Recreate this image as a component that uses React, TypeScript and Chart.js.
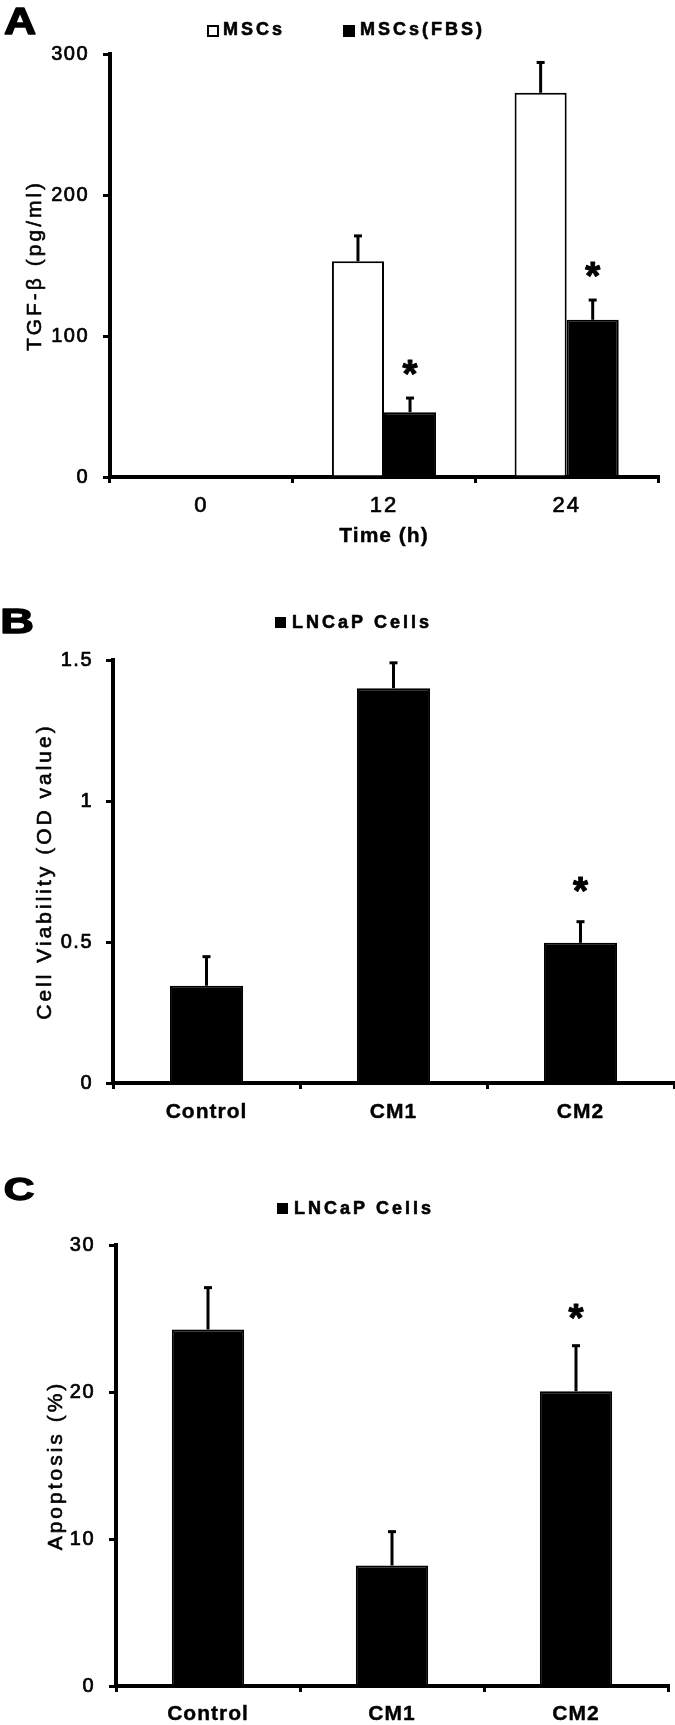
import React, { useEffect, useRef } from 'react';
import { Chart, registerables } from 'chart.js';

Chart.register(...registerables);

const FONT = '"Liberation Sans", Arial, Helvetica, sans-serif';

// ---------- Panel A : TGF-β secretion ----------
const timeLabels = ['0', '12', '24'];
const mscsLabel = 'MSCs';
const mscsValues = [0, 153, 272.5];
const mscsErrors = [0, 18, 21.5];
const mscsStars = [false, false, false];
const fbsLabel = 'MSCs(FBS)';
const fbsValues = [0, 46, 111.5];
const fbsErrors = [0, 10, 14];
const fbsStars = [false, true, true];
const tgfAxisMax = 300;
const tgfAxisStep = 100;

// ---------- Panel B : Cell viability ----------
const groupLabels = ['Control', 'CM1', 'CM2'];
const cellsLabel = 'LNCaP Cells';
const viabilityValues = [0.345, 1.4, 0.497];
const viabilityErrors = [0.103, 0.09, 0.075];
const viabilityStars = [false, false, true];
const viabilityAxisMax = 1.5;
const viabilityAxisStep = 0.5;

// ---------- Panel C : Apoptosis ----------
const apoptosisValues = [24.25, 8.2, 20.05];
const apoptosisErrors = [2.85, 2.3, 3.1];
const apoptosisStars = [false, false, true];
const apoptosisAxisMax = 30;
const apoptosisAxisStep = 10;

type Ink = { left: number; top: number; w: number; h: number };
type LegendItem = { x: number; y: number; size: number; textX: number; textY: number };

interface PanelSpec {
  height: number;
  letter: string;
  letterInk: Ink;
  labels: string[];
  datasets: any[];
  yMax: number;
  yStep: number;
  yTitle: string;
  xTitle?: string;
  padTop: number;
  padRight: number;
  yAxisWidth: number;
  xAxisHeight: number;
  yTitlePad: number;
  yTickPad: number;
  xTickPad: number;
  xTitlePad: number;
  xTickFont: { size: number; weight: string };
  spacing: { xTicks: number; xTitle: number; yTicks: number; yTitle: number };
  legend: LegendItem[];
  starGap: number;
  catPct: number;
}

function drawInkText(ctx: CanvasRenderingContext2D, text: string, ink0: Ink, weight: string, stroke: number) {
  const ink = { left: ink0.left + stroke / 2, top: ink0.top + stroke / 2, w: ink0.w - stroke, h: ink0.h - stroke };
  ctx.save();
  ctx.letterSpacing = '0px';
  ctx.font = `${weight} 100px ${FONT}`;
  const m = ctx.measureText(text);
  const h = m.actualBoundingBoxAscent + m.actualBoundingBoxDescent;
  const w = m.actualBoundingBoxLeft + m.actualBoundingBoxRight;
  const size = (100 * ink.h) / h;
  const sx = ink.w / ((w * size) / 100);
  ctx.font = `${weight} ${size}px ${FONT}`;
  const m2 = ctx.measureText(text);
  ctx.translate(ink.left, ink.top);
  ctx.scale(sx, 1);
  ctx.textAlign = 'left';
  ctx.textBaseline = 'alphabetic';
  ctx.fillStyle = '#000';
  ctx.fillText(text, m2.actualBoundingBoxLeft, m2.actualBoundingBoxAscent);
  if (stroke > 0) {
    ctx.strokeStyle = '#000';
    ctx.lineWidth = stroke;
    ctx.lineJoin = 'round';
    ctx.strokeText(text, m2.actualBoundingBoxLeft, m2.actualBoundingBoxAscent);
  }
  ctx.restore();
}

function withHeavyText(c: any, width: number, fn: () => void) {
  if (width <= 0) {
    fn();
    return;
  }
  const orig = CanvasRenderingContext2D.prototype.fillText;
  c.fillText = function (t: string, x: number, y: number, mw?: number) {
    if (mw === undefined) orig.call(this, t, x, y);
    else orig.call(this, t, x, y, mw);
    const lw = this.lineWidth;
    const ss = this.strokeStyle;
    const lj = this.lineJoin;
    this.lineWidth = width;
    this.strokeStyle = '#000';
    this.lineJoin = 'round';
    if (mw === undefined) this.strokeText(t, x, y);
    else this.strokeText(t, x, y, mw);
    this.lineWidth = lw;
    this.strokeStyle = ss;
    this.lineJoin = lj;
  };
  try {
    fn();
  } finally {
    delete c.fillText;
  }
}

function makePlugin(spec: PanelSpec) {
  return {
    id: 'decor',
    beforeDraw(chart: any) {
      const map: Record<string, { ticks: number; title: number; tickHeavy: number; titleHeavy: number }> = {
        x: {
          ticks: spec.spacing.xTicks,
          title: spec.spacing.xTitle,
          tickHeavy: spec.xTickFont.weight === 'bold' ? 0.4 : 0.7,
          titleHeavy: 0.4,
        },
        y: { ticks: spec.spacing.yTicks, title: spec.spacing.yTitle, tickHeavy: 0.7, titleHeavy: 0.6 },
      };
      Object.keys(map).forEach((id) => {
        const s = chart.scales[id];
        if (!s || s.__lsPatched) return;
        s.__lsPatched = true;
        const dt = s.drawTitle;
        const dl = s.drawLabels;
        s.drawTitle = function (...a: any[]) {
          const c = chart.ctx;
          const prev = c.letterSpacing;
          c.letterSpacing = map[id].title + 'px';
          withHeavyText(c, map[id].titleHeavy, () => dt.apply(this, a));
          c.letterSpacing = prev;
        };
        s.drawLabels = function (...a: any[]) {
          const c = chart.ctx;
          const prev = c.letterSpacing;
          c.letterSpacing = map[id].ticks + 'px';
          withHeavyText(c, map[id].tickHeavy, () => dl.apply(this, a));
          c.letterSpacing = prev;
        };
      });
    },
    afterDatasetsDraw(chart: any) {
      const ctx: CanvasRenderingContext2D = chart.ctx;
      const yScale = chart.scales.y;
      chart.data.datasets.forEach((ds: any, di: number) => {
        const meta = chart.getDatasetMeta(di);
        meta.data.forEach((bar: any, i: number) => {
          const v = ds.data[i];
          const e = ds.errors ? ds.errors[i] : 0;
          if (!e) return;
          const x = bar.x;
          const top = yScale.getPixelForValue(v);
          const end = yScale.getPixelForValue(v + e);
          ctx.save();
          ctx.strokeStyle = '#000';
          ctx.lineWidth = 3;
          ctx.beginPath();
          ctx.moveTo(x, top);
          ctx.lineTo(x, end);
          ctx.stroke();
          ctx.beginPath();
          ctx.moveTo(x - 4, end);
          ctx.lineTo(x + 4, end);
          ctx.stroke();
          ctx.restore();
          if (ds.stars && ds.stars[i]) {
            const cy = end - spec.starGap;
            drawInkText(ctx, '*', { left: x - 8, top: cy - 8, w: 16, h: 16 }, 'bold', 1.0);
          }
        });
      });
    },
    afterDraw(chart: any) {
      const ctx: CanvasRenderingContext2D = chart.ctx;
      drawInkText(ctx, spec.letter, spec.letterInk, 'bold', 1.4);
      chart.data.datasets.forEach((ds: any, di: number) => {
        const it = spec.legend[di];
        if (!it) return;
        ctx.save();
        ctx.fillStyle = ds.backgroundColor;
        ctx.fillRect(it.x, it.y, it.size, it.size);
        ctx.strokeStyle = '#000';
        ctx.lineWidth = 2;
        ctx.strokeRect(it.x + 1, it.y + 1, it.size - 2, it.size - 2);
        ctx.fillStyle = '#000';
        ctx.font = `bold 18px ${FONT}`;
        ctx.letterSpacing = '3px';
        ctx.textAlign = 'left';
        ctx.textBaseline = 'middle';
        ctx.fillText(ds.label, it.textX, it.textY);
        ctx.strokeStyle = '#000';
        ctx.lineWidth = 0.6;
        ctx.lineJoin = 'round';
        ctx.strokeText(ds.label, it.textX, it.textY);
        ctx.restore();
      });
    },
  };
}

function Panel({ spec }: { spec: PanelSpec }) {
  const ref = useRef<HTMLCanvasElement | null>(null);
  useEffect(() => {
    if (!ref.current) return;
    const chart = new Chart(ref.current, {
      type: 'bar',
      data: {
        labels: spec.labels,
        datasets: spec.datasets.map((d) => ({
          ...d,
          borderColor: '#000',
          borderWidth: 2,
          categoryPercentage: spec.catPct,
          barPercentage: 1,
        })),
      },
      options: {
        animation: false,
        responsive: false,
        maintainAspectRatio: false,
        devicePixelRatio: 1,
        events: [],
        layout: { padding: { top: spec.padTop, right: spec.padRight, bottom: 0, left: 0 } },
        plugins: { legend: { display: false }, tooltip: { enabled: false }, title: { display: false } },
        scales: {
          x: {
            ticks: {
              color: '#000',
              maxRotation: 0,
              autoSkip: false,
              padding: spec.xTickPad,
              font: { family: FONT, size: spec.xTickFont.size, weight: spec.xTickFont.weight as any },
            },
            grid: {
              offset: true,
              drawOnChartArea: false,
              drawTicks: true,
              tickLength: 6,
              tickWidth: 3,
              tickColor: '#000',
              color: '#000',
              lineWidth: 3,
            },
            border: { display: true, color: '#000', width: 4 },
            title: {
              display: !!spec.xTitle,
              text: spec.xTitle || '',
              color: '#000',
              font: { family: FONT, size: 21, weight: 'bold' },
              padding: { top: 0, bottom: spec.xTitlePad },
            },
            afterFit: (s: any) => {
              s.height = spec.xAxisHeight;
            },
          },
          y: {
            min: 0,
            max: spec.yMax,
            ticks: {
              stepSize: spec.yStep,
              color: '#000',
              padding: spec.yTickPad,
              font: { family: FONT, size: 20 },
              callback: (v: any) => String(v),
            },
            grid: {
              drawOnChartArea: false,
              drawTicks: true,
              tickLength: 7,
              tickWidth: 3,
              tickColor: '#000',
              color: '#000',
              lineWidth: 3,
            },
            border: { display: true, color: '#000', width: 4 },
            title: {
              display: true,
              text: spec.yTitle,
              color: '#000',
              font: { family: FONT, size: 21 },
              padding: { top: spec.yTitlePad, bottom: 0 },
            },
            afterFit: (s: any) => {
              s.width = spec.yAxisWidth;
            },
          },
        },
      } as any,
      plugins: [makePlugin(spec) as any],
    });
    return () => chart.destroy();
  }, [spec]);
  return (
    <canvas
      ref={ref}
      width={675}
      height={spec.height}
      style={{ display: 'block', width: 675, height: spec.height }}
    />
  );
}

const panelA: PanelSpec = {
  height: 580,
  letter: 'A',
  letterInk: { left: 3.3, top: 7.3, w: 31.7, h: 27.7 },
  labels: timeLabels,
  datasets: [
    { label: mscsLabel, data: mscsValues, errors: mscsErrors, stars: mscsStars, backgroundColor: '#ffffff' },
    { label: fbsLabel, data: fbsValues, errors: fbsErrors, stars: fbsStars, backgroundColor: '#000000' },
  ],
  yMax: tgfAxisMax,
  yStep: tgfAxisStep,
  yTitle: 'TGF-β (pg/ml)',
  xTitle: 'Time (h)',
  padTop: 54,
  padRight: 17,
  yAxisWidth: 110,
  xAxisHeight: 103,
  yTitlePad: 23,
  yTickPad: 14,
  xTickPad: 10,
  xTitlePad: 31,
  xTickFont: { size: 22, weight: 'normal' },
  spacing: { xTicks: 2, xTitle: 1, yTicks: 1.5, yTitle: 3 },
  legend: [
    { x: 207, y: 25, size: 12, textX: 223, textY: 30.5 },
    { x: 343, y: 25, size: 12, textX: 360, textY: 30.5 },
  ],
  starGap: 31,
  catPct: 0.57,
};

const panelB: PanelSpec = {
  height: 560,
  letter: 'B',
  letterInk: { left: 2.2, top: 28.6, w: 30.3, h: 25 },
  labels: groupLabels,
  datasets: [
    { label: cellsLabel, data: viabilityValues, errors: viabilityErrors, stars: viabilityStars, backgroundColor: '#000000' },
  ],
  yMax: viabilityAxisMax,
  yStep: viabilityAxisStep,
  yTitle: 'Cell Viability (OD value)',
  padTop: 80,
  padRight: 1,
  yAxisWidth: 113,
  xAxisHeight: 57,
  yTitlePad: 33,
  yTickPad: 13,
  xTickPad: 11,
  xTitlePad: 0,
  xTickFont: { size: 21, weight: 'bold' },
  spacing: { xTicks: 1, xTitle: 0, yTicks: 1.5, yTitle: 3 },
  legend: [{ x: 275, y: 37, size: 11, textX: 292, textY: 43 }],
  starGap: 37,
  catPct: 0.391,
};

const panelC: PanelSpec = {
  height: 585,
  letter: 'C',
  letterInk: { left: 4.3, top: 37.3, w: 29.5, h: 24.3 },
  labels: groupLabels,
  datasets: [
    { label: cellsLabel, data: apoptosisValues, errors: apoptosisErrors, stars: apoptosisStars, backgroundColor: '#000000' },
  ],
  yMax: apoptosisAxisMax,
  yStep: apoptosisAxisStep,
  yTitle: 'Apoptosis (%)',
  padTop: 105,
  padRight: 7,
  yAxisWidth: 116,
  xAxisHeight: 39,
  yTitlePad: 44,
  yTickPad: 14,
  xTickPad: 10,
  xTitlePad: 0,
  xTickFont: { size: 21, weight: 'bold' },
  spacing: { xTicks: 1, xTitle: 0, yTicks: 1.5, yTitle: 3 },
  legend: [{ x: 277, y: 63, size: 11, textX: 294, textY: 69 }],
  starGap: 34,
  catPct: 0.393,
};

export default function App() {
  return (
    <div style={{ position: 'absolute', left: 0, top: 0, width: 675, height: 1725, background: '#fff' }}>
      <Panel spec={panelA} />
      <Panel spec={panelB} />
      <Panel spec={panelC} />
    </div>
  );
}
